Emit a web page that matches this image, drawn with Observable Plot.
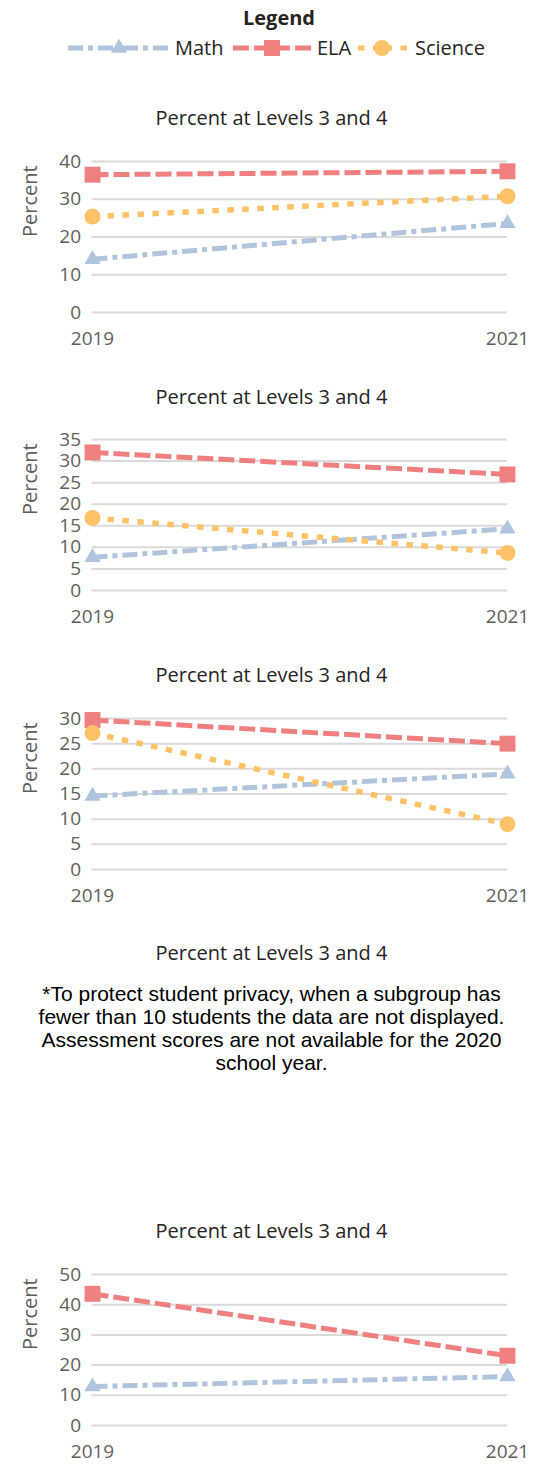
<!DOCTYPE html>
<html><head><meta charset="utf-8">
<script src="https://cdn.jsdelivr.net/npm/d3@7"></script>
<script src="https://cdn.jsdelivr.net/npm/@observablehq/plot@0.6"></script>
<style>
body{margin:0;background:#fff;}
#root{position:relative;width:543px;height:1464px;overflow:hidden;font-family:"Open Sans",sans-serif;}
.title{position:absolute;left:0;width:543px;text-align:center;font-size:20px;line-height:20px;color:#252423;white-space:nowrap}
.note{position:absolute;left:0;width:543px;text-align:center;font-family:"Liberation Sans",Arial,sans-serif;font-size:21px;line-height:23px;color:#000;white-space:nowrap}
.panel{position:absolute;left:0}
.legend{position:absolute;left:0;top:0}
</style></head><body><div id="root"></div>
<script>
// ---------------- data ----------------
const years = [2019, 2021];
const subjects = ["Math", "ELA", "Science"];
const legendTitle = "Legend";
const panelTitle = "Percent at Levels 3 and 4";
const yLabel = "Percent";

// panel 1
const ticks1 = [0, 10, 20, 30, 40];
const math1 = [14.1, 23.6];
const ela1 = [36.5, 37.4];
const sci1 = [25.4, 30.8];
// panel 2
const ticks2 = [0, 5, 10, 15, 20, 25, 30, 35];
const math2 = [7.7, 14.3];
const ela2 = [32.0, 26.9];
const sci2 = [16.8, 8.7];
// panel 3
const ticks3 = [0, 5, 10, 15, 20, 25, 30];
const math3 = [14.6, 19.0];
const ela3 = [29.7, 25.0];
const sci3 = [27.1, 9.0];
// panel 4: no data (privacy note)
const noteLines = [
  "*To protect student privacy, when a subgroup has",
  "fewer than 10 students the data are not displayed.",
  "Assessment scores are not available for the 2020",
  "school year."
];
// panel 5
const ticks5 = [0, 10, 20, 30, 40, 50];
const math5 = [12.9, 16.2];
const ela5 = [43.6, 23.1];
const sci5 = null;

// ---------------- styles ----------------
const colors = {Math: "#B0C4DE", ELA: "#F08080", Science: "#FFC266"};
const dashes = {Math: "15,5,5,5", ELA: "16,5", Science: "6.5,8.5"};
const widths = {Math: 5, ELA: 5, Science: 5.5};
const symbols = {Math: "triangle", ELA: "square", Science: "circle"};
const radii = {Math: 6, ELA: 9, Science: 8};
const d3symbols = {Math: d3.symbolTriangle, ELA: d3.symbolSquare, Science: d3.symbolCircle};

const panels = [
  {ticks: ticks1, series: {Math: math1, ELA: ela1, Science: sci1}},
  {ticks: ticks2, series: {Math: math2, ELA: ela2, Science: sci2}},
  {ticks: ticks3, series: {Math: math3, ELA: ela3, Science: sci3}},
  null,
  {ticks: ticks5, series: {Math: math5, ELA: ela5, Science: sci5}}
];

const root = document.getElementById("root");

// ---------------- legend ----------------
(function legend() {
  const svg = d3.create("svg").attr("class", "legend").attr("width", 543).attr("height", 70)
    .style("font-family", '"Open Sans", sans-serif');
  svg.append("text").attr("x", 279).attr("y", 25).attr("text-anchor", "middle")
    .attr("font-weight", "bold").attr("font-size", 20).attr("fill", "#252423").text(legendTitle);
  const items = [
    {s: "Math", x0: 68, cx: 119, x1: 168, tx: 175},
    {s: "ELA", x0: 233, cx: 272, x1: 311, tx: 317},
    {s: "Science", x0: 358, cx: 382, x1: 407, tx: 415}
  ];
  const cy = 48;
  for (const it of items) {
    const g = svg.append("g");
    for (const [a, b] of [[it.x0, it.cx], [it.x1, it.cx]]) {
      g.append("line").attr("x1", a).attr("x2", b).attr("y1", cy).attr("y2", cy)
        .attr("stroke", colors[it.s]).attr("stroke-width", 5).attr("stroke-dasharray", dashes[it.s]);
    }
    const r = radii[it.s];
    g.append("path").attr("transform", `translate(${it.cx},${cy})`)
      .attr("d", d3.symbol(d3symbols[it.s], r * r * Math.PI)()).attr("fill", colors[it.s]);
    g.append("text").attr("x", it.tx).attr("y", cy + 7).attr("font-size", 20).attr("fill", "#252423").text(it.s);
  }
  root.appendChild(svg.node());
})();

// ---------------- panels ----------------
const stride = 278.25, firstTitle = 119;
panels.forEach((p, k) => {
  const tc = firstTitle + stride * k;
  const t = document.createElement("div");
  t.className = "title";
  t.style.top = (tc - 10.6) + "px";
  t.textContent = panelTitle;
  root.appendChild(t);

  if (!p) {
    const n = document.createElement("div");
    n.className = "note";
    n.style.top = (tc + 28) + "px";
    n.innerHTML = noteLines.map(l => l.replace(/&/g, "&amp;").replace(/</g, "&lt;")).join("<br>");
    root.appendChild(n);
    return;
  }
  const plotTop = tc + 42;
  const mt = 20, ph = 151, mb = 38;
  const rows = [];
  for (const s of subjects) {
    const v = p.series[s];
    if (!v) continue;
    years.forEach((y, i) => rows.push({year: y, subject: s, value: v[i]}));
  }
  const present = subjects.filter(s => p.series[s]);
  const chart = Plot.plot({
    width: 543, height: mt + ph + mb,
    marginTop: mt, marginBottom: mb, marginLeft: 91.5, marginRight: 36,
    style: {fontFamily: '"Open Sans", sans-serif', fontSize: "19px", color: "#605E5C", background: "transparent", overflow: "visible"},
    x: {type: "point", domain: years, padding: 0, label: null, tickSize: 0, tickPadding: 19, tickFormat: d => String(d)},
    y: {domain: [0, d3.max(p.ticks)], ticks: p.ticks, label: null, tickSize: 0, tickPadding: 11},
    marks: [
      Plot.ruleY(p.ticks, {stroke: "#DADADA", strokeWidth: 2}),
      ...present.map(s => Plot.line(rows.filter(r => r.subject === s),
        {x: "year", y: "value", stroke: colors[s], strokeWidth: widths[s], strokeDasharray: dashes[s],
         strokeLinecap: "butt", strokeLinejoin: "miter"})),
      ...present.map(s => Plot.dot(rows.filter(r => r.subject === s),
        {x: "year", y: "value", symbol: () => symbols[s], r: radii[s], fill: colors[s], stroke: "none"})),
      Plot.text([yLabel], {frameAnchor: "left", text: d => d, rotate: -90, dx: -61, fontSize: 20, fill: "#605E5C"})
    ]
  });
  chart.classList.add("panel");
  chart.style.top = (plotTop - mt) + "px";
  root.appendChild(chart);
});
</script>
</body></html>
